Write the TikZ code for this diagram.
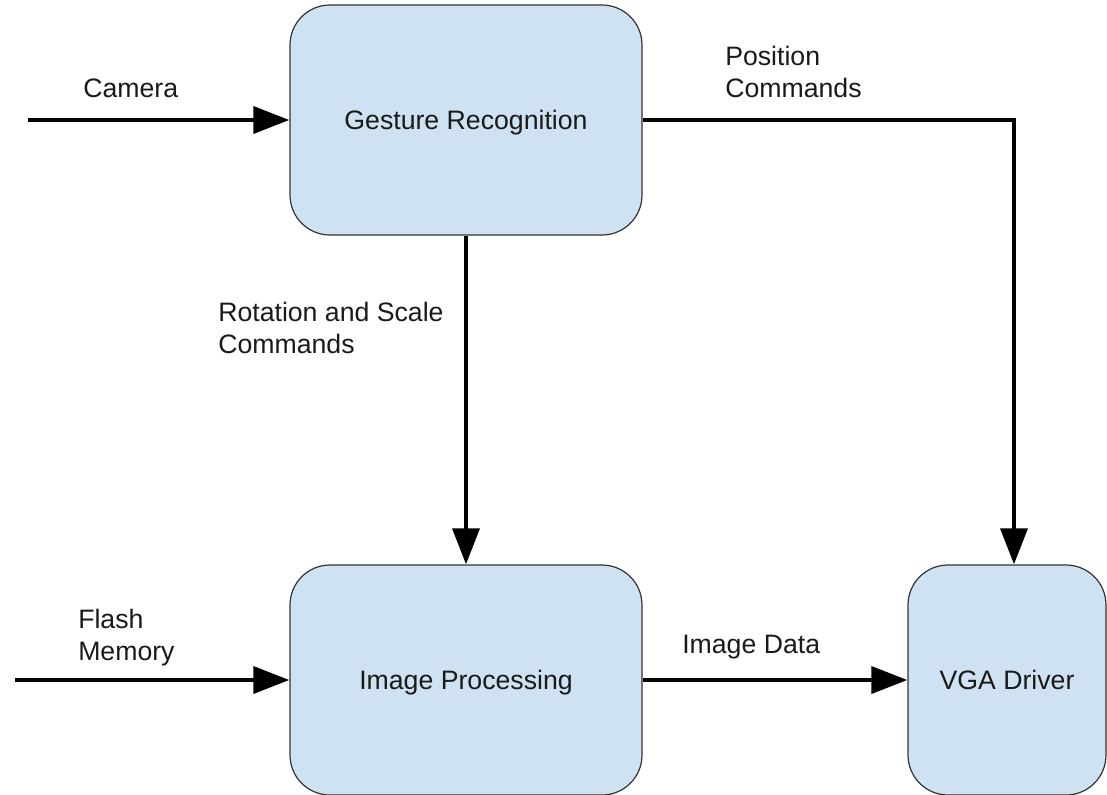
\documentclass[tikz,border=0pt]{standalone}
\usepackage{fontspec}
\setmainfont{Liberation Sans}
\usetikzlibrary{arrows.meta}
\definecolor{boxfill}{HTML}{CFE2F3}
\definecolor{boxline}{HTML}{333333}
\definecolor{txt}{HTML}{1A1A1A}
\begin{document}
\begin{tikzpicture}[x=0.75pt,y=-0.75pt,
  block/.style={draw=boxline,fill=boxfill,line width=0.9pt,rounded corners=30pt,
    font=\fontsize{20pt}{23.6pt}\selectfont,text=txt,inner sep=0pt,text depth=0pt},
  flow/.style={line width=3.4pt,-{Triangle[length=27pt,width=20pt]}},
  lbl/.style={font=\fontsize{20pt}{23.6pt}\selectfont,text=txt,align=left,inner sep=0pt,anchor=base west}]
\useasboundingbox (0,0) rectangle (1107,794);
\clip (0,0) rectangle (1107,794);
\node[block,minimum width=264pt,minimum height=172.5pt] (gest) at (466,120) {Gesture Recognition};
\node[block,minimum width=264pt,minimum height=172.5pt] (ip) at (466,680) {Image Processing};
\node[block,minimum width=148.5pt,minimum height=172.5pt] (vga) at (1007,680) {VGA Driver};
\coordinate (camin) at (28,120);
\coordinate (flashin) at (15,680);
\coordinate (turn) at (1014,120);
\draw[flow] (camin) -- (gest.west);
\draw[flow,line join=miter] (gest.east) -- (turn) -- (turn |- vga.north);
\draw[flow] (gest.south) -- (ip.north);
\draw[flow] (flashin) -- (ip.west);
\draw[flow] (ip.east) -- (vga.west);
\node[lbl] (lcam) at (83,97) {Camera};
\node[lbl] (lpos) at (725,97) {Position\\Commands};
\node[lbl] (lrot) at (218,353) {Rotation and Scale\\Commands};
\node[lbl] (lflash) at (78,660) {Flash\\Memory};
\node[lbl] (limg) at (682,653) {Image Data};
\end{tikzpicture}
\end{document}
